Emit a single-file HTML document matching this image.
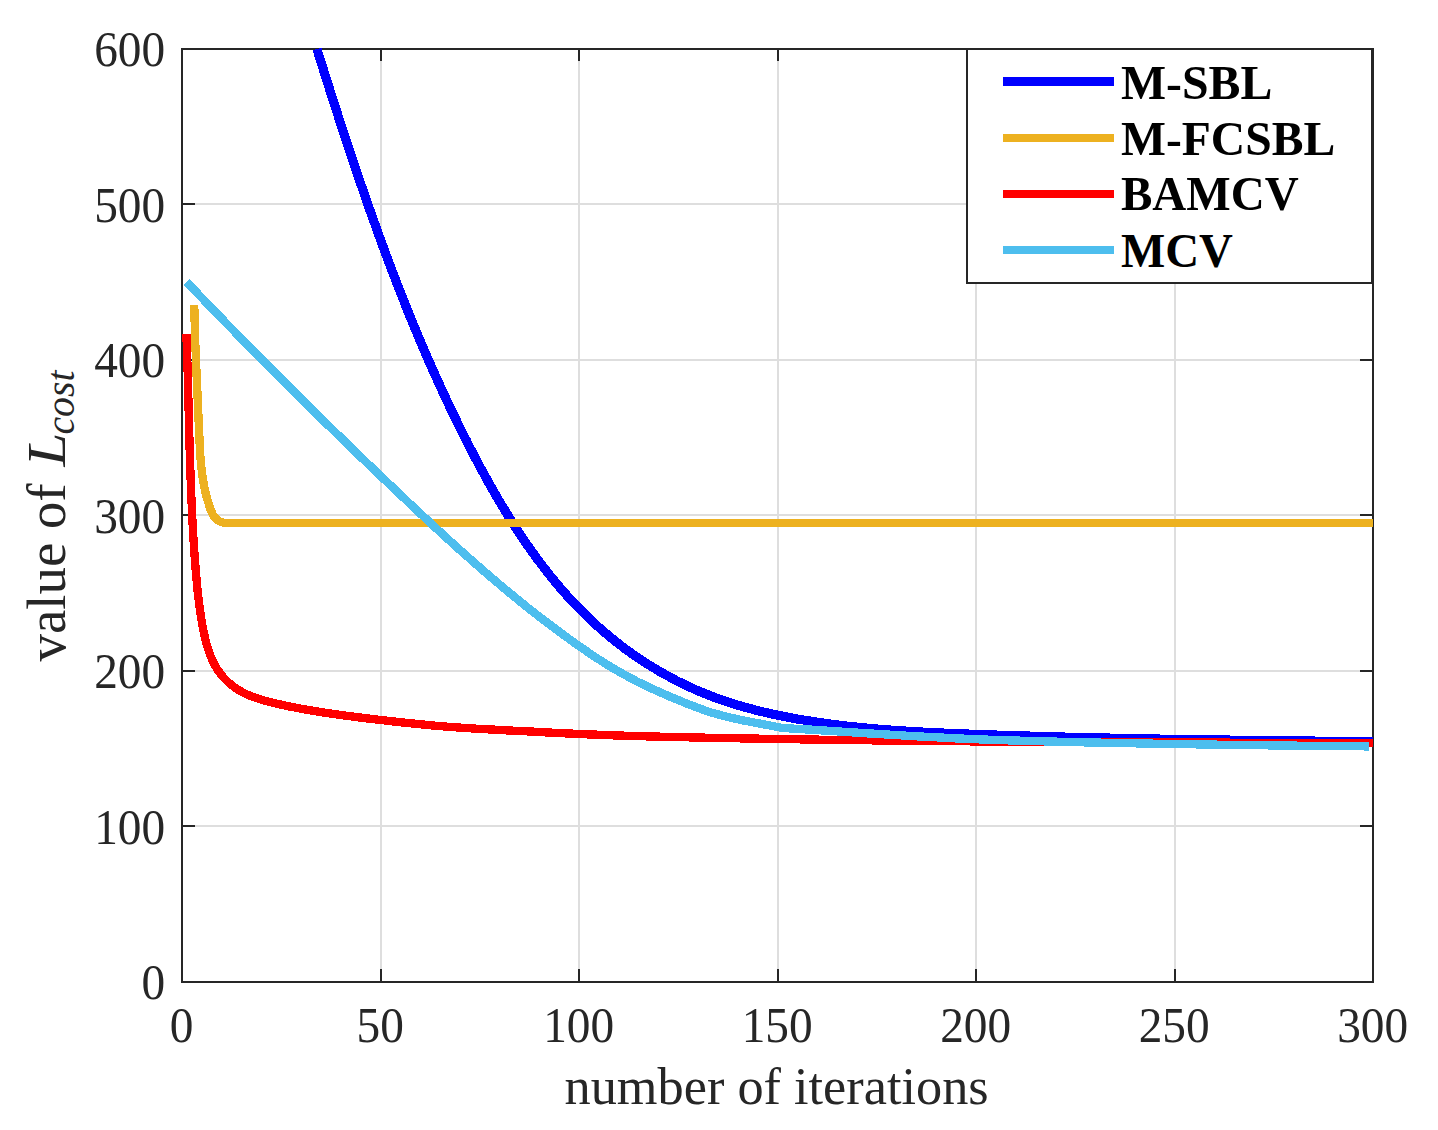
<!DOCTYPE html>
<html lang="en"><head><meta charset="utf-8"><title>Convergence of L_cost</title>
<style>html,body{margin:0;padding:0;background:#fff}body{width:1438px;height:1130px;overflow:hidden}svg{display:block}text{font-family:"Liberation Serif","Times New Roman",serif;fill:#262626}</style>
</head><body>
<svg width="1438" height="1130" viewBox="0 0 1438 1130">
<rect width="1438" height="1130" fill="#fff"/>
<defs><clipPath id="ax"><rect x="181" y="40" width="1192" height="943"/></clipPath></defs>
<g fill="#dedede" shape-rendering="crispEdges">
<rect x="380" y="49" width="2" height="933"/>
<rect x="578" y="49" width="2" height="933"/>
<rect x="777" y="49" width="2" height="933"/>
<rect x="975" y="49" width="2" height="933"/>
<rect x="1174" y="49" width="2" height="933"/>
<rect x="182" y="825" width="1191" height="2"/>
<rect x="182" y="670" width="1191" height="2"/>
<rect x="182" y="514" width="1191" height="2"/>
<rect x="182" y="359" width="1191" height="2"/>
<rect x="182" y="203" width="1191" height="2"/>
</g>
<g fill="#262626" shape-rendering="crispEdges">
<rect x="181" y="48" width="1193" height="2"/>
<rect x="181" y="981" width="1193" height="2"/>
<rect x="181" y="48" width="2" height="935"/>
<rect x="1372" y="48" width="2" height="935"/>
<rect x="380" y="969" width="2" height="13"/>
<rect x="380" y="49" width="2" height="12"/>
<rect x="578" y="969" width="2" height="13"/>
<rect x="578" y="49" width="2" height="12"/>
<rect x="777" y="969" width="2" height="13"/>
<rect x="777" y="49" width="2" height="12"/>
<rect x="975" y="969" width="2" height="13"/>
<rect x="975" y="49" width="2" height="12"/>
<rect x="1174" y="969" width="2" height="13"/>
<rect x="1174" y="49" width="2" height="12"/>
<rect x="182" y="825" width="13" height="2"/>
<rect x="1360" y="825" width="13" height="2"/>
<rect x="182" y="670" width="13" height="2"/>
<rect x="1360" y="670" width="13" height="2"/>
<rect x="182" y="514" width="13" height="2"/>
<rect x="1360" y="514" width="13" height="2"/>
<rect x="182" y="359" width="13" height="2"/>
<rect x="1360" y="359" width="13" height="2"/>
<rect x="182" y="203" width="13" height="2"/>
<rect x="1360" y="203" width="13" height="2"/>
</g>
<g fill="none" stroke-linejoin="round" stroke-linecap="butt" clip-path="url(#ax)" shape-rendering="crispEdges">
<polyline stroke="#0000ff" stroke-width="9.17" points="317.2,49.0 318.3,53.7 319.8,58.5 321.3,63.3 322.9,68.1 324.4,72.9 325.9,77.8 327.4,82.6 329.0,87.4 330.5,92.2 332.0,96.9 333.6,101.7 335.1,106.5 336.7,111.3 338.2,116.1 339.8,120.9 341.3,125.6 342.9,130.4 344.4,135.2 346.0,139.9 347.6,144.7 349.2,149.4 350.7,154.2 352.3,158.9 353.9,163.7 355.5,168.4 357.1,173.1 358.7,177.8 360.3,182.6 362.0,187.3 363.6,192.0 365.2,196.7 366.8,201.4 368.5,206.1 370.1,210.8 371.8,215.5 373.5,220.2 375.2,224.9 376.8,229.6 378.5,234.3 380.2,238.9 381.9,243.6 383.7,248.3 385.4,252.9 387.1,257.6 388.9,262.3 390.6,266.9 392.4,271.6 394.2,276.2 395.9,280.8 397.7,285.5 399.5,290.1 401.4,294.7 403.2,299.3 405.0,304.0 406.9,308.6 408.7,313.2 410.6,317.8 412.5,322.4 414.4,327.0 416.3,331.6 418.2,336.2 420.2,340.8 422.1,345.3 424.1,349.9 426.0,354.5 428.0,359.1 430.0,363.6 432.0,368.2 434.1,372.7 436.1,377.3 438.2,381.8 440.3,386.4 442.3,390.9 444.4,395.4 446.6,400.0 448.7,404.5 450.8,409.0 453.0,413.5 455.2,418.0 457.4,422.6 459.6,427.1 461.8,431.6 464.1,436.1 466.4,440.5 468.6,445.0 470.9,449.5 473.3,454.0 475.6,458.5 478.0,462.9 480.3,467.4 482.7,471.8 485.2,476.3 487.6,480.7 490.1,485.1 492.6,489.5 495.1,493.9 497.6,498.2 500.2,502.6 502.8,506.9 505.4,511.2 508.0,515.5 510.7,519.8 513.4,524.1 516.1,528.3 518.9,532.5 521.7,536.7 524.5,540.9 527.3,545.0 530.2,549.2 533.1,553.2 536.1,557.3 539.1,561.3 542.1,565.3 545.1,569.3 548.2,573.2 551.3,577.1 554.5,581.0 557.7,584.8 560.9,588.6 564.2,592.4 567.5,596.1 570.9,599.8 574.3,603.4 577.7,607.0 581.2,610.6 584.7,614.1 588.3,617.6 591.9,621.0 595.6,624.4 599.3,627.7 603.0,631.0 606.8,634.2 610.6,637.4 614.5,640.6 618.5,643.7 622.4,646.7 626.4,649.7 630.5,652.6 634.6,655.5 638.7,658.3 642.9,661.1 647.1,663.8 651.3,666.4 655.6,669.0 659.9,671.6 664.2,674.0 668.6,676.4 673.0,678.8 677.4,681.1 681.9,683.3 686.3,685.5 690.9,687.6 695.4,689.6 700.0,691.6 704.6,693.5 709.2,695.3 713.8,697.1 718.5,698.8 723.2,700.4 727.9,702.0 732.6,703.5 737.4,705.0 742.1,706.4 746.9,707.7 751.7,709.0 756.5,710.3 761.3,711.5 766.2,712.6 771.0,713.8 775.9,714.8 780.7,715.8 785.6,716.8 790.5,717.8 795.4,718.7 800.3,719.5 805.2,720.3 810.2,721.1 815.1,721.9 820.0,722.6 824.9,723.3 829.9,724.0 834.8,724.6 839.8,725.2 844.7,725.8 849.7,726.4 854.6,726.9 859.6,727.4 864.5,727.9 869.5,728.4 874.5,728.8 879.4,729.2 884.4,729.6 889.4,730.0 894.4,730.4 899.4,730.7 904.4,731.0 909.3,731.3 914.3,731.6 919.3,731.9 924.3,732.2 929.3,732.4 934.4,732.7 939.4,732.9 944.4,733.1 949.4,733.3 954.4,733.5 959.4,733.7 964.4,733.9 969.5,734.1 974.5,734.3 979.5,734.5 984.5,734.7 989.6,734.8 994.6,735.0 999.6,735.2 1004.6,735.3 1009.7,735.5 1014.7,735.6 1019.7,735.8 1024.8,735.9 1029.8,736.1 1034.9,736.2 1039.9,736.4 1044.9,736.5 1050.0,736.7 1055.0,736.8 1060.0,736.9 1065.1,737.1 1070.1,737.2 1075.2,737.3 1080.2,737.4 1085.2,737.5 1090.3,737.7 1095.3,737.8 1100.4,737.9 1105.4,738.0 1110.4,738.1 1115.5,738.2 1120.5,738.3 1125.5,738.4 1130.6,738.5 1135.6,738.6 1140.6,738.7 1145.7,738.8 1150.7,738.9 1155.7,739.0 1160.8,739.1 1165.8,739.1 1170.8,739.2 1175.8,739.3 1180.9,739.4 1185.9,739.5 1190.9,739.5 1195.9,739.6 1200.9,739.7 1205.9,739.8 1210.9,739.8 1215.9,739.9 1220.9,740.0 1225.9,740.0 1230.9,740.1 1235.9,740.2 1240.9,740.2 1245.9,740.3 1250.9,740.3 1255.9,740.4 1260.9,740.5 1265.8,740.5 1270.8,740.6 1275.8,740.6 1280.8,740.7 1285.7,740.7 1290.7,740.8 1295.6,740.8 1300.6,740.9 1305.5,741.0 1310.5,741.0 1315.4,741.1 1320.4,741.1 1325.3,741.1 1330.2,741.2 1335.1,741.2 1340.1,741.3 1345.0,741.3 1349.9,741.4 1354.8,741.4 1359.7,741.5 1364.6,741.5 1369.5,741.6 1373.0,741.6"/>
<polyline stroke="#edb120" stroke-width="8.33" points="194.2,305.0 194.3,308.1 194.4,311.0 194.4,314.0 194.5,316.9 194.6,319.9 194.7,322.8 194.7,325.8 194.8,328.8 194.9,331.8 195.0,334.8 195.1,337.7 195.2,340.7 195.3,343.7 195.4,346.7 195.6,349.7 195.7,352.7 195.8,355.8 195.9,358.8 196.0,361.8 196.2,364.8 196.3,367.8 196.4,370.8 196.5,373.9 196.7,376.9 196.8,379.9 196.9,382.9 197.1,385.9 197.2,389.0 197.4,392.0 197.5,395.0 197.6,398.0 197.8,401.1 197.9,404.1 198.0,407.1 198.2,410.1 198.3,413.1 198.4,416.2 198.6,419.2 198.7,422.2 198.8,425.2 199.0,428.2 199.1,431.2 199.2,434.2 199.4,437.2 199.5,440.2 199.6,443.2 199.8,446.2 200.0,449.2 200.1,452.2 200.3,455.1 200.5,458.1 200.8,461.1 201.1,464.0 201.3,467.0 201.7,470.0 202.0,472.9 202.4,475.8 202.9,478.8 203.3,481.7 203.9,484.6 204.4,487.5 205.0,490.4 205.7,493.3 206.4,496.2 207.2,499.1 208.1,502.0 209.0,504.9 209.9,507.7 211.0,510.6 212.2,513.3 213.6,515.9 215.3,518.2 217.5,520.2 220.1,521.6 223.1,522.6 226.4,523.1 229.6,523.1 232.0,523.0 1373.0,523.0"/>
<polyline stroke="#ff0000" stroke-width="8.33" points="186.5,333.8 186.5,336.8 186.6,339.8 186.7,342.8 186.8,345.8 186.9,348.8 187.0,351.8 187.1,354.8 187.2,357.8 187.3,360.8 187.4,363.8 187.5,366.8 187.6,369.8 187.7,372.8 187.7,375.8 187.8,378.8 187.9,381.8 188.0,384.8 188.1,387.8 188.1,390.8 188.2,393.8 188.3,396.8 188.4,399.8 188.4,402.8 188.5,405.8 188.6,408.8 188.7,411.8 188.7,414.8 188.8,417.8 188.9,420.8 189.0,423.8 189.1,426.8 189.1,429.8 189.2,432.8 189.3,435.8 189.4,438.8 189.5,441.8 189.5,444.8 189.6,447.8 189.7,450.8 189.8,453.8 189.9,456.8 190.0,459.8 190.1,462.8 190.2,465.8 190.3,468.8 190.4,471.8 190.5,474.8 190.6,477.8 190.7,480.7 190.8,483.7 190.9,486.7 191.0,489.7 191.2,492.7 191.3,495.7 191.4,498.7 191.5,501.7 191.7,504.7 191.8,507.7 192.0,510.7 192.1,513.7 192.2,516.7 192.4,519.7 192.6,522.7 192.7,525.7 192.9,528.7 193.1,531.7 193.2,534.7 193.4,537.7 193.6,540.7 193.8,543.7 194.0,546.7 194.2,549.6 194.4,552.6 194.6,555.6 194.8,558.6 195.1,561.6 195.3,564.6 195.5,567.6 195.8,570.6 196.0,573.6 196.3,576.6 196.6,579.5 196.8,582.5 197.1,585.5 197.4,588.5 197.7,591.5 198.1,594.5 198.4,597.4 198.8,600.4 199.1,603.4 199.5,606.4 199.9,609.3 200.3,612.3 200.8,615.3 201.2,618.2 201.7,621.2 202.2,624.1 202.7,627.1 203.3,630.0 203.9,633.0 204.6,635.9 205.3,638.9 206.0,641.8 206.8,644.7 207.7,647.7 208.6,650.6 209.6,653.4 210.7,656.2 211.9,659.0 213.1,661.8 214.5,664.4 215.9,667.0 217.5,669.6 219.2,672.0 220.9,674.4 222.8,676.7 224.8,678.9 226.9,681.0 229.1,683.0 231.4,684.9 233.7,686.7 236.1,688.4 238.6,690.0 241.2,691.5 243.8,692.9 246.5,694.2 249.2,695.4 252.0,696.5 254.8,697.5 257.7,698.5 260.6,699.4 263.5,700.3 266.4,701.1 269.4,701.9 272.3,702.6 275.3,703.3 278.2,704.0 281.2,704.7 284.1,705.3 287.1,705.9 290.0,706.6 293.0,707.1 295.9,707.7 298.9,708.3 301.9,708.8 304.8,709.4 307.8,709.9 310.7,710.4 313.7,710.9 316.7,711.4 319.6,711.8 322.6,712.3 325.6,712.8 328.5,713.2 331.5,713.6 334.5,714.1 337.4,714.5 340.4,714.9 343.4,715.3 346.3,715.7 349.3,716.1 352.3,716.5 355.2,716.9 358.2,717.3 361.2,717.6 364.2,718.0 367.1,718.4 370.1,718.7 373.1,719.1 376.1,719.4 379.0,719.8 382.0,720.1 385.0,720.5 388.0,720.8 390.9,721.2 393.9,721.5 396.9,721.8 399.9,722.2 402.8,722.5 405.8,722.8 408.8,723.1 411.8,723.4 414.8,723.7 417.8,724.0 420.7,724.3 423.7,724.6 426.7,724.9 429.7,725.2 432.7,725.5 435.7,725.7 438.6,726.0 441.6,726.2 444.6,726.5 447.6,726.7 450.6,727.0 453.6,727.2 456.6,727.4 459.5,727.6 462.5,727.8 465.5,728.0 468.5,728.2 471.5,728.4 474.5,728.6 477.5,728.8 480.5,728.9 483.5,729.1 486.4,729.3 489.4,729.4 492.4,729.6 495.4,729.7 498.4,729.9 501.4,730.0 504.4,730.2 507.4,730.4 510.4,730.5 513.4,730.7 516.4,730.8 519.4,731.0 522.4,731.1 525.4,731.3 528.4,731.4 531.4,731.6 534.4,731.7 537.3,731.9 540.3,732.0 543.3,732.2 546.3,732.4 549.3,732.5 552.3,732.7 555.3,732.8 558.3,733.0 561.3,733.1 564.3,733.3 567.3,733.4 570.3,733.6 573.3,733.7 576.3,733.8 579.3,734.0 582.3,734.1 585.3,734.2 588.3,734.4 591.3,734.5 594.3,734.6 597.3,734.7 600.3,734.9 603.3,735.0 606.3,735.1 609.3,735.2 612.3,735.3 615.3,735.4 618.3,735.5 621.3,735.6 624.3,735.7 627.3,735.8 630.3,735.9 633.3,736.0 636.3,736.0 639.3,736.1 642.3,736.2 645.3,736.3 648.3,736.4 651.3,736.5 654.3,736.5 657.3,736.6 660.3,736.7 663.3,736.8 666.3,736.8 669.3,736.9 672.3,737.0 675.3,737.0 678.3,737.1 681.3,737.2 684.3,737.2 687.4,737.3 690.4,737.4 693.4,737.4 696.4,737.5 699.4,737.6 702.4,737.6 705.4,737.7 708.4,737.7 711.4,737.8 714.4,737.9 717.4,737.9 720.4,738.0 723.4,738.0 726.4,738.1 729.4,738.2 732.4,738.2 735.4,738.3 738.4,738.3 741.4,738.4 744.4,738.4 747.4,738.5 750.4,738.5 753.4,738.6 756.4,738.6 759.4,738.7 762.4,738.8 765.4,738.8 768.4,738.9 771.4,738.9 774.4,739.0 777.4,739.0 780.4,739.1 783.4,739.1 786.4,739.1 789.4,739.2 792.4,739.2 795.4,739.3 798.4,739.3 801.4,739.4 804.4,739.4 807.4,739.5 810.4,739.5 813.4,739.6 816.4,739.6 819.4,739.7 822.4,739.7 825.4,739.7 828.4,739.8 831.4,739.8 834.4,739.9 837.4,739.9 840.4,739.9 843.4,740.0 846.4,740.0 849.4,740.1 852.4,740.1 855.4,740.1 858.4,740.2 861.4,740.2 864.4,740.3 867.4,740.3 870.4,740.3 873.4,740.4 876.4,740.4 879.4,740.4 882.4,740.5 885.4,740.5 888.4,740.5 891.4,740.6 894.4,740.6 897.4,740.6 900.4,740.7 903.4,740.7 906.4,740.7 909.4,740.8 912.4,740.8 915.4,740.8 918.4,740.9 921.4,740.9 924.4,740.9 927.3,741.0 930.3,741.0 933.3,741.0 936.3,741.1 939.3,741.1 942.3,741.1 945.3,741.1 948.3,741.2 951.3,741.2 954.3,741.2 957.3,741.2 960.3,741.3 963.3,741.3 966.3,741.3 969.3,741.3 972.3,741.4 975.3,741.4 978.3,741.4 981.3,741.4 984.3,741.5 987.3,741.5 990.3,741.5 993.3,741.5 996.3,741.6 999.3,741.6 1002.3,741.6 1005.3,741.6 1008.3,741.7 1011.3,741.7 1014.3,741.7 1017.3,741.7 1020.3,741.7 1023.3,741.8 1026.3,741.8 1029.3,741.8 1032.3,741.8 1035.3,741.8 1038.3,741.9 1041.3,741.9 1044.3,741.9 1047.3,741.9 1050.3,741.9 1053.3,741.9 1056.3,742.0 1059.3,742.0 1062.3,742.0 1065.3,742.0 1068.3,742.0 1071.3,742.1 1074.3,742.1 1077.3,742.1 1080.3,742.1 1083.3,742.1 1086.3,742.1 1089.3,742.1 1092.3,742.2 1095.3,742.2 1098.3,742.2 1101.3,742.2 1104.3,742.2 1107.3,742.2 1110.3,742.2 1113.3,742.3 1116.3,742.3 1119.3,742.3 1122.3,742.3 1125.3,742.3 1128.3,742.3 1131.3,742.3 1134.3,742.3 1137.3,742.4 1140.3,742.4 1143.3,742.4 1146.3,742.4 1149.3,742.4 1152.3,742.4 1155.3,742.4 1158.3,742.4 1161.3,742.4 1164.3,742.5 1167.3,742.5 1170.3,742.5 1173.3,742.5 1176.3,742.5 1179.3,742.5 1182.3,742.5 1185.3,742.5 1188.3,742.5 1191.3,742.5 1194.3,742.6 1197.3,742.6 1200.3,742.6 1203.3,742.6 1206.3,742.6 1209.3,742.6 1212.3,742.6 1215.3,742.6 1218.3,742.6 1221.3,742.6 1224.3,742.6 1227.3,742.6 1230.3,742.7 1233.3,742.7 1236.3,742.7 1239.3,742.7 1242.3,742.7 1245.3,742.7 1248.3,742.7 1251.3,742.7 1254.3,742.7 1257.3,742.7 1260.3,742.7 1263.3,742.7 1266.3,742.7 1269.3,742.7 1272.3,742.7 1275.3,742.8 1278.3,742.8 1281.3,742.8 1284.3,742.8 1287.3,742.8 1290.3,742.8 1293.3,742.8 1296.3,742.8 1299.3,742.8 1302.3,742.8 1305.3,742.8 1308.3,742.8 1311.3,742.8 1314.3,742.8 1317.3,742.8 1320.3,742.8 1323.3,742.8 1326.3,742.8 1329.3,742.8 1332.3,742.9 1335.3,742.9 1338.3,742.9 1341.3,742.9 1344.3,742.9 1347.3,742.9 1350.3,742.9 1353.3,742.9 1356.3,742.9 1359.3,742.9 1362.3,742.9 1365.3,742.9 1368.3,742.9 1371.3,742.9 1373.0,742.9"/>
<polyline stroke="#4dbeee" stroke-width="8.33" points="186.3,281.9 189.9,285.4 193.3,289.0 196.8,292.6 200.2,296.2 203.7,299.8 207.2,303.4 210.6,307.0 214.1,310.6 217.6,314.2 221.1,317.8 224.5,321.4 228.0,325.0 231.5,328.5 235.0,332.1 238.5,335.7 242.0,339.3 245.5,342.8 249.0,346.4 252.5,350.0 256.0,353.5 259.6,357.1 263.1,360.7 266.6,364.2 270.1,367.8 273.7,371.3 277.2,374.8 280.7,378.4 284.3,381.9 287.8,385.5 291.4,389.0 294.9,392.5 298.5,396.1 302.0,399.6 305.6,403.1 309.1,406.6 312.7,410.1 316.3,413.6 319.8,417.1 323.4,420.6 327.0,424.2 330.6,427.6 334.2,431.1 337.7,434.6 341.3,438.1 344.9,441.6 348.5,445.1 352.1,448.6 355.7,452.0 359.3,455.5 362.9,459.0 366.5,462.5 370.1,465.9 373.7,469.4 377.3,472.8 380.9,476.3 384.6,479.7 388.2,483.2 391.8,486.6 395.4,490.1 399.0,493.5 402.7,496.9 406.3,500.3 409.9,503.8 413.5,507.2 417.2,510.6 420.8,514.0 424.5,517.4 428.1,520.8 431.8,524.2 435.4,527.6 439.1,531.0 442.8,534.3 446.4,537.7 450.1,541.1 453.8,544.4 457.5,547.8 461.2,551.1 464.9,554.4 468.7,557.7 472.4,561.0 476.1,564.3 479.9,567.6 483.6,570.9 487.4,574.1 491.2,577.4 495.0,580.6 498.8,583.8 502.6,587.1 506.5,590.3 510.3,593.4 514.2,596.6 518.0,599.8 521.9,602.9 525.8,606.1 529.7,609.2 533.7,612.3 537.6,615.4 541.6,618.4 545.6,621.5 549.6,624.5 553.6,627.5 557.6,630.5 561.7,633.5 565.7,636.5 569.8,639.4 573.9,642.4 578.0,645.3 582.2,648.2 586.4,651.1 590.5,653.9 594.7,656.7 599.0,659.5 603.2,662.2 607.5,664.9 611.8,667.5 616.1,670.0 620.4,672.5 624.8,674.9 629.1,677.3 633.5,679.6 637.9,681.9 642.4,684.0 646.8,686.2 651.3,688.3 655.8,690.4 660.3,692.4 664.8,694.4 669.4,696.4 674.0,698.3 678.6,700.2 683.2,702.1 687.8,704.0 692.5,705.8 697.2,707.6 701.9,709.3 706.6,711.0 711.3,712.5 716.1,713.9 720.9,715.2 725.7,716.5 730.5,717.6 735.4,718.7 740.2,719.8 745.1,720.8 750.0,721.7 755.0,722.7 759.9,723.6 764.9,724.6 769.9,725.5 774.9,726.5 780.0,727.5 782.0,728.0 786.0,728.2 790.0,728.4 794.0,728.7 798.0,728.9 802.0,729.1 806.0,729.4 810.0,729.6 814.0,729.8 818.0,730.1 822.0,730.4 826.0,730.6 830.0,730.9 834.0,731.1 838.0,731.4 842.0,731.7 846.0,732.0 850.0,732.2 854.0,732.5 858.0,732.7 862.0,733.0 866.0,733.3 870.0,733.5 874.0,733.7 878.0,734.0 882.0,734.2 886.0,734.5 890.0,734.7 894.0,735.0 898.0,735.2 902.0,735.4 906.0,735.7 910.0,735.9 914.0,736.1 918.0,736.4 922.0,736.6 926.0,736.8 930.0,737.0 934.0,737.2 938.0,737.4 942.0,737.6 946.0,737.8 950.0,738.0 954.0,738.3 958.0,738.5 962.0,738.6 966.0,738.8 970.0,739.0 974.0,739.2 978.0,739.3 982.0,739.5 986.0,739.6 990.0,739.8 994.0,739.9 998.0,740.0 1002.0,740.2 1006.0,740.3 1010.0,740.4 1014.0,740.5 1018.0,740.6 1022.0,740.8 1026.0,740.9 1030.0,741.0 1034.0,741.1 1038.0,741.2 1042.0,741.3 1046.0,741.4 1050.0,741.5 1054.0,741.6 1058.0,741.7 1062.0,741.8 1066.0,741.9 1070.0,742.0 1074.0,742.1 1078.0,742.2 1082.0,742.3 1086.0,742.4 1090.0,742.5 1094.0,742.5 1098.0,742.6 1102.0,742.7 1106.0,742.8 1110.0,742.9 1114.0,743.0 1118.0,743.0 1122.0,743.1 1126.0,743.2 1130.0,743.3 1134.0,743.3 1138.0,743.4 1142.0,743.5 1146.0,743.5 1150.0,743.6 1154.0,743.7 1158.0,743.8 1162.0,743.8 1166.0,743.9 1170.0,744.0 1174.0,744.0 1178.0,744.1 1182.0,744.1 1186.0,744.2 1190.0,744.3 1194.0,744.3 1198.0,744.4 1202.0,744.4 1206.0,744.5 1210.0,744.6 1214.0,744.6 1218.0,744.7 1222.0,744.7 1226.0,744.8 1230.0,744.8 1234.0,744.9 1238.0,744.9 1242.0,745.0 1246.0,745.0 1250.0,745.1 1254.0,745.2 1258.0,745.2 1262.0,745.3 1266.0,745.3 1270.0,745.4 1274.0,745.4 1278.0,745.5 1282.0,745.5 1286.0,745.6 1290.0,745.6 1294.0,745.6 1298.0,745.7 1302.0,745.7 1306.0,745.8 1310.0,745.8 1314.0,745.9 1318.0,745.9 1322.0,746.0 1326.0,746.0 1330.0,746.0 1334.0,746.1 1338.0,746.1 1342.0,746.2 1346.0,746.2 1350.0,746.2 1354.0,746.3 1358.0,746.3 1362.0,746.3 1366.0,746.4 1369.0,746.4"/>
</g>
<g>
<rect x="967" y="49" width="405" height="234" fill="#fff" stroke="#262626" stroke-width="2" shape-rendering="crispEdges"/>
<rect x="1372" y="48" width="2" height="236" fill="#262626" shape-rendering="crispEdges"/>
<rect x="1003" y="77" width="111" height="9" fill="#0000ff" shape-rendering="crispEdges"/>
<text transform="translate(1121,98.7) scale(0.975,1)" font-size="49" font-weight="bold" style="fill:#000">M-SBL</text>
<rect x="1003" y="134" width="111" height="8" fill="#edb120" shape-rendering="crispEdges"/>
<text transform="translate(1121,154.6) scale(0.972,1)" font-size="49" font-weight="bold" style="fill:#000">M-FCSBL</text>
<rect x="1003" y="190" width="111" height="8" fill="#ff0000" shape-rendering="crispEdges"/>
<text transform="translate(1121,210.4) scale(0.960,1)" font-size="49" font-weight="bold" style="fill:#000">BAMCV</text>
<rect x="1003" y="246" width="111" height="8" fill="#4dbeee" shape-rendering="crispEdges"/>
<text transform="translate(1121,266.5) scale(0.957,1)" font-size="49" font-weight="bold" style="fill:#000">MCV</text>
</g>
<g font-size="51.2">
<text transform="translate(165.2,999.3) scale(0.925,1)" text-anchor="end">0</text>
<text transform="translate(165.2,843.8) scale(0.925,1)" text-anchor="end">100</text>
<text transform="translate(165.2,688.3) scale(0.925,1)" text-anchor="end">200</text>
<text transform="translate(165.2,532.8) scale(0.925,1)" text-anchor="end">300</text>
<text transform="translate(165.2,377.3) scale(0.925,1)" text-anchor="end">400</text>
<text transform="translate(165.2,221.8) scale(0.925,1)" text-anchor="end">500</text>
<text transform="translate(165.2,66.3) scale(0.925,1)" text-anchor="end">600</text>
<text transform="translate(181.7,1042.1) scale(0.925,1)" text-anchor="middle">0</text>
<text transform="translate(380.2,1042.1) scale(0.925,1)" text-anchor="middle">50</text>
<text transform="translate(578.7,1042.1) scale(0.925,1)" text-anchor="middle">100</text>
<text transform="translate(777.2,1042.1) scale(0.925,1)" text-anchor="middle">150</text>
<text transform="translate(975.7,1042.1) scale(0.925,1)" text-anchor="middle">200</text>
<text transform="translate(1174.2,1042.1) scale(0.925,1)" text-anchor="middle">250</text>
<text transform="translate(1372.7,1042.1) scale(0.925,1)" text-anchor="middle">300</text>
</g>
<text transform="translate(776.6,1103.7) scale(0.976,1)" font-size="53.6" text-anchor="middle">number of iterations</text>
<g transform="translate(65,516) rotate(-90)" font-size="55.8">
<text transform="translate(-145.4,0) scale(0.982,1)">value of</text>
<text transform="translate(49.6,0) scale(1.090,1)" font-style="italic">L</text>
<text transform="translate(81.5,8.8) scale(0.968,1)" font-style="italic" font-size="41">cost</text>
</g>
</svg>
</body></html>
